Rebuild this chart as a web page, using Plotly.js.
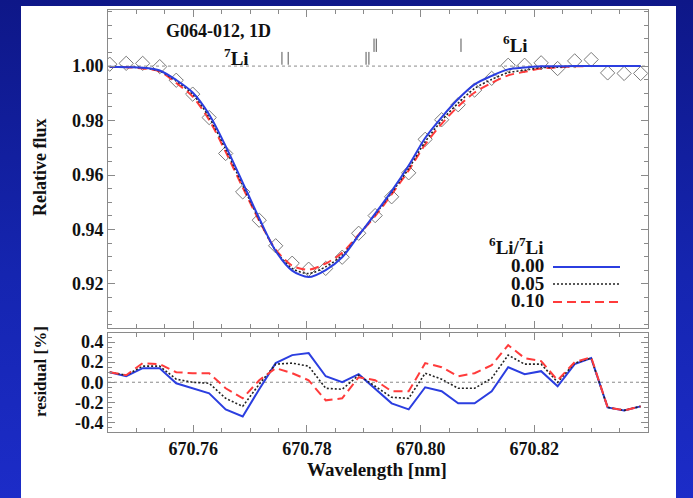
<!DOCTYPE html>
<html>
<head>
<meta charset="utf-8">
<script src="https://cdn.plot.ly/plotly-3.0.1.min.js"></script>
<style>
  html, body { margin: 0; padding: 0; }
  body {
    width: 693px; height: 498px; overflow: hidden; position: relative;
    background: linear-gradient(to bottom, #0e1788 0%, #1525b0 55%, #1c2cc8 100%);
  }
  #sheet { position: absolute; left: 21px; top: 6px; width: 655px; height: 492px; background: #ffffff; }
  #chart { position: absolute; left: 0; top: 0; width: 693px; height: 498px; }
</style>
</head>
<body>
<div id="sheet"></div>
<div id="chart"></div>
<script>
// Wavelength grid of the observed spectrum [nm]
const wavelength = [
  670.7453, 670.7482, 670.7511, 670.7541, 670.7570, 670.7599, 670.7628, 670.7657,
  670.7687, 670.7716, 670.7745, 670.7774, 670.7803, 670.7833, 670.7862, 670.7891,
  670.7920, 670.7949, 670.7979, 670.8008, 670.8037, 670.8066, 670.8095, 670.8125,
  670.8154, 670.8183, 670.8212, 670.8241, 670.8271, 670.8300, 670.8329, 670.8358,
  670.8387
];

// Observed relative flux
const observedFlux = [
  1.0007, 1.0010, 1.0010, 0.9998, 0.9948, 0.9897, 0.9811, 0.9679,
  0.9538, 0.9434, 0.9340, 0.9276, 0.9254, 0.9257, 0.9298, 0.9386,
  0.9451, 0.9520, 0.9608, 0.9731, 0.9803, 0.9858, 0.9912, 0.9955,
  1.0003, 1.0003, 1.0012, 0.9991, 1.0019, 1.0024, 0.9975, 0.9973,
  0.9973
];

// Synthetic profiles for 6Li/7Li = 0.00, 0.05, 0.10
const model000 = [
  0.9998, 0.9996, 0.9994, 0.9984, 0.9949, 0.9903, 0.9822, 0.9706,
  0.9572, 0.9441, 0.9321, 0.9249, 0.9225, 0.9251, 0.9298, 0.9378,
  0.9458, 0.9541, 0.9635, 0.9736, 0.9812, 0.9879, 0.9933, 0.9964,
  0.9988, 0.9995, 0.9999, 0.9999, 1.0000, 1.0000, 1.0000, 1.0000,
  1.0000
];
const model005 = [
  0.9997, 0.9996, 0.9994, 0.9982, 0.9945, 0.9897, 0.9812, 0.9695,
  0.9562, 0.9436, 0.9322, 0.9257, 0.9238, 0.9263, 0.9305, 0.9379,
  0.9455, 0.9535, 0.9624, 0.9722, 0.9800, 0.9864, 0.9918, 0.9951,
  0.9976, 0.9985, 0.9994, 0.9996, 1.0000, 1.0000, 1.0000, 1.0000,
  1.0000
];
const model010 = [
  0.9997, 0.9996, 0.9991, 0.9980, 0.9938, 0.9888, 0.9802, 0.9685,
  0.9554, 0.9432, 0.9326, 0.9267, 0.9252, 0.9275, 0.9314, 0.9381,
  0.9449, 0.9529, 0.9617, 0.9712, 0.9788, 0.9852, 0.9903, 0.9938,
  0.9966, 0.9979, 0.9991, 0.9995, 0.9999, 1.0000, 1.0000, 1.0000,
  1.0000
];

// Residuals (observed - synthetic) in percent
const resid000 = [
  0.10, 0.06, 0.14, 0.14, -0.01, -0.06, -0.11, -0.27, -0.34, -0.07, 0.19,
  0.27, 0.29, 0.06, 0.00, 0.08, -0.07, -0.21, -0.27, -0.05, -0.09, -0.21,
  -0.21, -0.09, 0.15, 0.08, 0.11, -0.04, 0.18, 0.24, -0.25, -0.28, -0.24
];
const resid005 = [
  0.10, 0.07, 0.16, 0.16, 0.03, 0.00, -0.01, -0.16, -0.24, -0.02, 0.18,
  0.19, 0.16, -0.06, -0.07, 0.07, -0.04, -0.15, -0.16, 0.09, 0.03, -0.06,
  -0.06, 0.04, 0.27, 0.18, 0.18, 0.00, 0.19, 0.24, -0.25, -0.28, -0.24
];
const resid010 = [
  0.10, 0.07, 0.19, 0.18, 0.10, 0.09, 0.09, -0.06, -0.16, 0.02, 0.14,
  0.09, 0.02, -0.18, -0.16, 0.05, 0.02, -0.09, -0.09, 0.19, 0.15, 0.06,
  0.09, 0.17, 0.37, 0.24, 0.21, 0.02, 0.20, 0.25, -0.25, -0.28, -0.24
];

// Line component positions [nm]
const li7Lines = [670.7756, 670.7767, 670.7904, 670.7909];
const li6Lines = [670.7918, 670.7922, 670.8071];

const ratioLabels = ['0.00', '0.05', '0.10'];
const wlTicks = [670.76, 670.78, 670.80, 670.82];
const fluxTicks = [0.92, 0.94, 0.96, 0.98, 1.00];
const residTicks = [-0.4, -0.2, 0.0, 0.2, 0.4];
const residTickText = ['-0.4', '-0.2', '0.0', '0.2', '0.4'];

// ---- styling ----
const SERIF = 'Liberation Serif, Times New Roman, serif';
const BLUE = '#2b3ee0';
const BLACK = '#222222';
const RED = '#ff3b3b';
const FRAME = '#8a8a8a';

const styles = [
  { color: BLUE, width: 2.0, dash: 'solid' },
  { color: BLACK, width: 1.6, dash: '2px,2px' },
  { color: RED, width: 2.0, dash: '9px,5px' }
];

// vertical component markers: a segment per line position
function markerSegments(xs, lo, hi) {
  const x = [], y = [];
  xs.forEach(v => { x.push(v, v, null); y.push(lo, hi, null); });
  return { x, y };
}
const seg7 = markerSegments(li7Lines, 1.0005, 1.0052);
const seg6 = markerSegments(li6Lines, 1.0052, 1.0101);

const models = [model000, model005, model010];
const resids = [resid000, resid005, resid010];

const traces = [
  { x: seg7.x, y: seg7.y, mode: 'lines', line: { color: '#555', width: 1 }, xaxis: 'x', yaxis: 'y', hoverinfo: 'skip' },
  { x: seg6.x, y: seg6.y, mode: 'lines', line: { color: '#555', width: 1 }, xaxis: 'x', yaxis: 'y', hoverinfo: 'skip' },
  {
    x: wavelength, y: observedFlux, mode: 'markers', xaxis: 'x', yaxis: 'y',
    marker: { symbol: 'diamond-open', size: 11, color: '#7a7a7a', line: { width: 1, color: '#7a7a7a' } }
  }
];
// draw in order red, black, blue so the blue line stays on top
[2, 1, 0].forEach(k => {
  traces.push({
    x: wavelength, y: models[k], mode: 'lines', xaxis: 'x', yaxis: 'y',
    line: { color: styles[k].color, width: styles[k].width, dash: styles[k].dash, shape: 'spline', smoothing: 0.8 }
  });
});
[0, 1, 2].forEach(k => {
  traces.push({
    x: wavelength, y: resids[k], mode: 'lines', xaxis: 'x2', yaxis: 'y2',
    line: { color: styles[k].color, width: styles[k].width, dash: styles[k].dash }
  });
});

const tickFont = { family: SERIF, size: 18, color: '#111', weight: 'bold' };

const xCommon = {
  range: [670.745, 670.84], tickmode: 'array', tickvals: wlTicks, tickformat: '.2f',
  ticks: 'inside', ticklen: 7, tickcolor: FRAME, tickwidth: 1,
  minor: { tick0: 670.76, dtick: 0.005, ticks: 'inside', ticklen: 4, tickcolor: FRAME },
  showline: true, linecolor: FRAME, linewidth: 1, mirror: 'ticks',
  showgrid: false, zeroline: false, tickfont: tickFont
};

// paper coordinates: plot area spans x 108..648, y 10..432 px
const P = {
  x: px => (px - 108) / 540,
  y: py => (432 - py) / 422
};

const annFont = (size) => ({ family: SERIF, size: size, color: '#111', weight: 'bold' });

const annotations = [
  { text: 'G064-012, 1D', x: P.x(218), y: P.y(31), font: annFont(18) },
  { text: '<sup>7</sup>Li', x: P.x(236), y: P.y(57), font: annFont(19) },
  { text: '<sup>6</sup>Li', x: P.x(515), y: P.y(44), font: annFont(19) },
  { text: '<sup>6</sup>Li/<sup>7</sup>Li', x: P.x(546), y: P.y(246), xanchor: 'right', font: annFont(19) },
  { text: 'Relative flux', x: P.x(40), y: P.y(168), textangle: -90, font: annFont(18) },
  { text: 'residual [%]', x: P.x(40), y: P.y(372), textangle: -90, font: annFont(17) },
  { text: 'Wavelength [nm]', x: P.x(377), y: P.y(470), font: annFont(19) }
].map(a => Object.assign({ xref: 'paper', yref: 'paper', showarrow: false, xanchor: 'center', yanchor: 'middle' }, a));

const legendRows = [265, 283, 300];
const legendLineY = [267, 284, 302];
const shapes = [
  { type: 'line', xref: 'x domain', yref: 'y', x0: 0, x1: 1, y0: 1, y1: 1, line: { color: '#8a8a8a', width: 1, dash: 'dot' }, layer: 'below' },
  { type: 'line', xref: 'x2 domain', yref: 'y2', x0: 0, x1: 1, y0: 0, y1: 0, line: { color: '#8a8a8a', width: 1, dash: 'dot' }, layer: 'below' }
];
ratioLabels.forEach((lab, k) => {
  annotations.push({ xref: 'paper', yref: 'paper', showarrow: false, text: lab, x: P.x(546), y: P.y(legendRows[k]), xanchor: 'right', yanchor: 'middle', font: annFont(19) });
  shapes.push({ type: 'line', xref: 'paper', yref: 'paper', x0: P.x(553), x1: P.x(620), y0: P.y(legendLineY[k]), y1: P.y(legendLineY[k]),
    line: { color: styles[k].color, width: styles[k].width, dash: styles[k].dash } });
});

const layout = {
  width: 693, height: 498,
  margin: { l: 108, r: 45, t: 10, b: 66 },
  paper_bgcolor: 'rgba(0,0,0,0)', plot_bgcolor: '#ffffff',
  showlegend: false,
  xaxis: Object.assign({}, xCommon, { anchor: 'y', showticklabels: false, matches: 'x2' }),
  xaxis2: Object.assign({}, xCommon, { anchor: 'y2' }),
  yaxis: {
    domain: [0.2464, 1], range: [0.9038, 1.0206], tickmode: 'array', tickvals: fluxTicks, tickformat: '.2f',
    ticks: 'inside', ticklen: 7, tickcolor: FRAME,
    minor: { tick0: 0.92, dtick: 0.005, ticks: 'inside', ticklen: 4, tickcolor: FRAME },
    showline: true, linecolor: FRAME, mirror: 'ticks', showgrid: false, zeroline: false,
    tickfont: tickFont, anchor: 'x'
  },
  yaxis2: {
    domain: [0, 0.2346], range: [-0.495, 0.49],
    tickmode: 'array', tickvals: residTicks, ticktext: residTickText,
    ticks: 'inside', ticklen: 7, tickcolor: FRAME,
    minor: { tick0: 0, dtick: 0.05, ticks: 'inside', ticklen: 4, tickcolor: FRAME },
    showline: true, linecolor: FRAME, mirror: 'ticks', showgrid: false, zeroline: false,
    tickfont: tickFont, anchor: 'x2'
  },
  annotations: annotations,
  shapes: shapes
};

Plotly.newPlot('chart', traces, layout, { staticPlot: true, displayModeBar: false });
</script>
</body>
</html>
